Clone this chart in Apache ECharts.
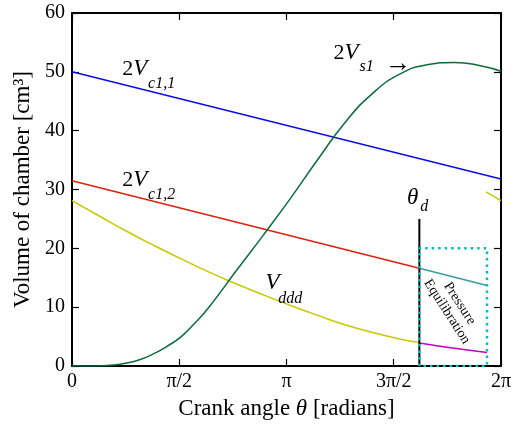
<!DOCTYPE html>
<html>
<head>
<meta charset="utf-8">
<script src="https://cdn.jsdelivr.net/npm/echarts@6/dist/echarts.min.js"></script>
<style>html,body{margin:0;padding:0;background:#fff}#c{width:514px;height:430px}</style>
</head>
<body>
<div id="c"></div>
<script>
const PI = Math.PI;
const thetaD = 5.088;   // pressure equilibration start
const thetaE = 6.079;   // pressure equilibration end

const xTickLabels = ['0', 'π/2', 'π', '3π/2', '2π'];
const yTicks = [0, 10, 20, 30, 40, 50, 60];

// 2Vc1,1 (blue)
const vc11Theta = [0, 2 * PI];
const vc11Vals = [50.0, 31.8];
// 2Vc1,2 (red) until theta_d
const vc12Theta = [0, thetaD];
const vc12Vals = [31.5, 16.6];
// after theta_d (teal)
const eqUpperTheta = [thetaD, thetaE];
const eqUpperVals = [16.6, 13.7];
// Vddd (yellow)
const vdddTheta = [0, 0.4, 0.8, 1.2, 1.6, 2.0, 2.4, 2.8, 3.2, 3.6, 4.0, 4.4, 4.8, thetaD];
const vdddVals = [28.1, 25.5, 22.9, 20.5, 18.2, 16.0, 14.0, 12.1, 10.3, 8.6, 7.0, 5.7, 4.6, 4.0];
// Vddd restart at end of cycle
const vdddTailTheta = [6.065, 2 * PI];
const vdddTailVals = [29.6, 28.1];
// after theta_d (magenta)
const eqLowerTheta = [thetaD, 5.6, thetaE];
const eqLowerVals = [3.9, 3.0, 2.3];
// 2Vs1 (green)
const vs1Theta = [0, 0.2, 0.4, 0.6, 0.8, 1.0, 1.2, 1.4, 1.6, 1.8, 2.0, 2.4, 2.8, 3.2, 3.6, 4.0, 4.4, 4.8, 5.2, 5.6, 6.0, 2 * PI];
const vs1Vals = [0, 0, 0.02, 0.15, 0.5, 1.1, 2.1, 3.4, 5.0, 7.3, 9.9, 16.1, 22.2, 28.5, 35.1, 41.4, 46.3, 49.6, 51.2, 51.6, 51.0, 50.1];
// theta_d marker line
const markTheta = [thetaD, thetaD];
const markVals = [0, 25];
// pressure equilibration box
const boxTheta = [thetaD, thetaD, thetaE, thetaE, thetaD];
const boxVals = [0, 20, 20, 0, 0];

// annotation anchors (data coordinates)
const labelAnchors = [
  { t: '{n|2}{i|V}', at: [0.735, 50.48], kind: 'main' },
  { t: 'c1,1', at: [1.115, 47.93], kind: 'sub' },
  { t: '{n|2}{i|V}', at: [0.735, 31.62], kind: 'main' },
  { t: 'c1,2', at: [1.115, 29.07], kind: 'sub' },
  { t: '{i|V}', at: [2.834, 14.06], kind: 'main' },
  { t: 'ddd', at: [3.02, 11.39], kind: 'sub' },
  { t: '{n|2}{i|V}', at: [3.829, 53.15], kind: 'main' },
  { t: 's1', at: [4.21, 50.82], kind: 'sub' },
  { t: '{a|→}', at: [4.59, 51.3], kind: 'main' },
  { t: '{i|θ}', at: [4.908, 28.5], kind: 'main' },
  { t: 'd', at: [5.1, 27.03], kind: 'sub' }
];
const eqLabel = { t: 'Pressure\nEquilibration', at: [5.584, 9.94] };

const FONT = 'Liberation Serif';
const zip = (a, b) => a.map((x, i) => [x, b[i]]);

const chart = echarts.init(document.getElementById('c'), null, { renderer: 'canvas' });

function lineSeries(name, th, vals, color, extra) {
  return Object.assign({
    name, type: 'line', data: zip(th, vals), showSymbol: false, symbol: 'none',
    smooth: 0.5, lineStyle: { color, width: 1.5 }, xAxisIndex: 0, yAxisIndex: 0,
    animation: false, z: 3
  }, extra || {});
}

const axisCommonX = {
  type: 'value', min: 0, max: 2 * PI, interval: PI / 2,
  splitLine: { show: false },
  axisLine: { show: true, onZero: false, lineStyle: { color: '#000', width: 2 } },
  axisTick: { show: true, inside: true, length: 7, lineStyle: { color: '#000', width: 1.2 } }
};
const axisCommonY = {
  type: 'value', min: 0, max: 60, interval: 10,
  splitLine: { show: false },
  axisLine: { show: true, onZero: false, lineStyle: { color: '#000', width: 2 } },
  axisTick: { show: true, inside: true, length: 7, lineStyle: { color: '#000', width: 1.2 } }
};

const option = {
  backgroundColor: '#fff',
  animation: false,
  grid: { left: 72, right: 11, top: 13, bottom: 64 },
  xAxis: [
    Object.assign({}, axisCommonX, {
      position: 'bottom',
      name: 'Crank angle {i|θ} [radians]',
      nameLocation: 'middle', nameGap: 31,
      nameTextStyle: { fontFamily: FONT, fontSize: 23, color: '#000',
        rich: { i: { fontFamily: FONT, fontSize: 23, fontStyle: 'italic', color: '#000' } } },
      axisLabel: {
        show: true, margin: 6, color: '#000', fontFamily: FONT, fontSize: 20,
        showMinLabel: true, showMaxLabel: true,
        formatter: v => xTickLabels[Math.round(v / (PI / 2))] || ''
      }
    }),
    Object.assign({}, axisCommonX, { position: 'top', axisLabel: { show: false } })
  ],
  yAxis: [
    Object.assign({}, axisCommonY, {
      position: 'left',
      name: 'Volume of chamber [cm³]',
      nameLocation: 'middle', nameGap: 35, nameRotate: 90,
      nameTextStyle: { fontFamily: FONT, fontSize: 23, color: '#000' },
      axisLabel: { show: true, margin: 7, color: '#000', fontFamily: FONT, fontSize: 20,
        formatter: v => (yTicks.indexOf(v) >= 0 ? String(v) : '') }
    }),
    Object.assign({}, axisCommonY, { position: 'right', axisLabel: { show: false } })
  ],
  series: [
    lineSeries('2Vc1,1', vc11Theta, vc11Vals, '#0a10dc', { smooth: false }),
    lineSeries('2Vc1,2', vc12Theta, vc12Vals, '#e0200c', { smooth: false }),
    lineSeries('eqUpper', eqUpperTheta, eqUpperVals, '#3a9c9c', { smooth: false }),
    lineSeries('Vddd', vdddTheta, vdddVals, '#c8c800'),
    lineSeries('VdddTail', vdddTailTheta, vdddTailVals, '#c8c800', { smooth: false }),
    lineSeries('eqLower', eqLowerTheta, eqLowerVals, '#c000c0'),
    lineSeries('2Vs1', vs1Theta, vs1Vals, '#0b6b3f'),
    lineSeries('thetaD', markTheta, markVals, '#000', { smooth: false, lineStyle: { color: '#000', width: 2 }, z: 4 }),
    lineSeries('box', boxTheta, boxVals, '#00bfbf', { smooth: false, z: 5,
      lineStyle: { color: '#00bfbf', width: 2.5, type: [2.5, 4], cap: 'butt' } })
  ]
};
chart.setOption(option);

const toPx = p => chart.convertToPixel({ xAxisIndex: 0, yAxisIndex: 0 }, p);
const graphics = labelAnchors.map(l => {
  const p = toPx(l.at);
  if (l.kind === 'sub') {
    return { type: 'text', x: p[0], y: p[1], z: 10,
      style: { text: l.t, fontFamily: FONT, fontSize: 16, fontStyle: 'italic', fill: '#000',
        align: 'left', verticalAlign: 'middle' } };
  }
  return { type: 'text', x: p[0], y: p[1], z: 10,
    style: { text: l.t, fontFamily: FONT, fontSize: 22, fill: '#000', align: 'left', verticalAlign: 'middle',
      rich: {
        n: { fontFamily: FONT, fontSize: 22, fill: '#000', color: '#000' },
        i: { fontFamily: FONT, fontSize: 23, fontStyle: 'italic', fill: '#000', color: '#000' },
        a: { fontFamily: FONT, fontSize: 26, fill: '#000', color: '#000' }
      } } };
});
const ep = toPx(eqLabel.at);
graphics.push({ type: 'text', x: ep[0], y: ep[1], rotation: -57.3 * PI / 180, z: 10,
  style: { text: eqLabel.t, fontFamily: FONT, fontSize: 14, lineHeight: 15, fill: '#000',
    align: 'center', verticalAlign: 'middle' } });
chart.setOption({ graphic: graphics });
</script>
</body>
</html>
